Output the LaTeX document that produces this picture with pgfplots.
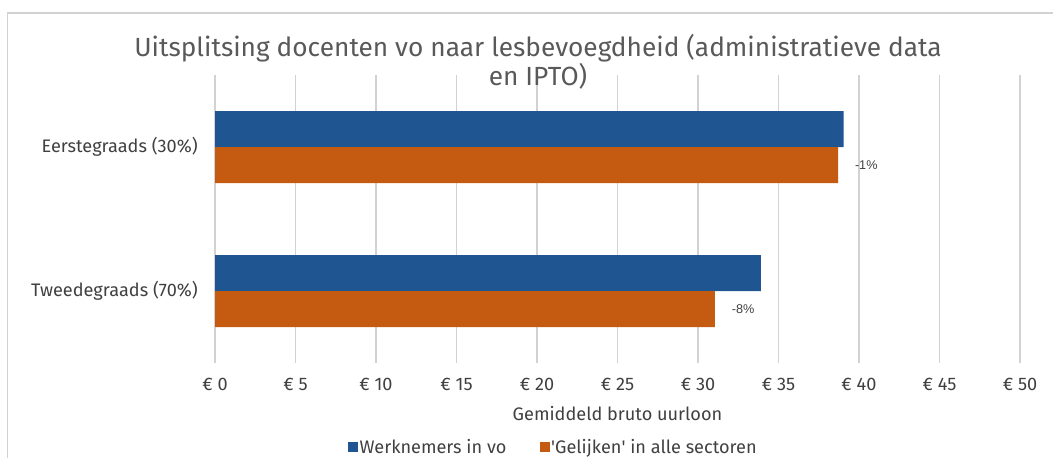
\documentclass[border=0pt]{standalone}
\usepackage{pgfplots}
\pgfplotsset{compat=1.18}
\usepackage{fontspec}
\setmainfont{Fira Sans}
\newfontfamily\lab{Liberation Sans}
\definecolor{blu}{RGB}{31,85,145}
\definecolor{orng}{RGB}{197,90,17}
\definecolor{txt}{RGB}{64,64,64}
\definecolor{ttl}{RGB}{89,89,89}
\definecolor{grd}{RGB}{210,210,210}
\begin{document}
\begin{tikzpicture}
\useasboundingbox (0,0) rectangle (789.75pt,342.75pt);
\draw[grd, line width=1.2pt, overlay] (5.6pt,-5pt) -- (5.6pt,333pt) -- (800pt,333pt);
\begin{axis}[
  at={(161.25pt,70.5pt)}, anchor=south west,
  scale only axis, width=603.75pt, height=216pt,
  xbar, bar width=0.25,
  xmin=0, xmax=50, ymin=-0.5, ymax=1.5,
  xtick={0,5,...,50},
  xticklabels={€ 0,€ 5,€ 10,€ 15,€ 20,€ 25,€ 30,€ 35,€ 40,€ 45,€ 50},
  ytick={0,1},
  yticklabels={Tweedegraads (70\%),Eerstegraads (30\%)},
  axis line style={draw=none},
  tick style={draw=none},
  xmajorgrids, ymajorgrids=false,
  major grid style={grd, line width=1.1pt},
  tick label style={font=\fontsize{13.6}{16}\selectfont, text=txt},
  xticklabel style={inner sep=0pt, anchor=north, yshift=-11.5pt},
  yticklabel style={inner sep=0pt, anchor=east, xshift=-8.5pt},
  xlabel={Gemiddeld bruto uurloon},
  xlabel style={at={(axis description cs:0.5,0)}, anchor=north, inner sep=0pt, yshift=-32pt, font=\fontsize{13.6}{16}\selectfont, text=txt},
  legend style={at={(0.42,-0.293)}, anchor=center, draw=none, fill=none,
    legend columns=2, font=\fontsize{13.6}{16}\selectfont, text=txt,
    nodes={inner sep=1pt},
    /tikz/every even column/.append style={column sep=24pt},
    inner sep=0pt},
  legend cell align=left,
  clip=false,
]
\addplot[fill=blu, draw=none, bar shift=0.125,
  legend image code/.code={\fill[blu] (0pt,-3.75pt) rectangle (7.5pt,3.75pt);}]
  coordinates {(33.9,0) (39.05,1)};
\addlegendentry{Werknemers in vo}
\addplot[fill=orng, draw=none, bar shift=-0.125,
  legend image code/.code={\fill[orng] (0pt,-3.75pt) rectangle (7.5pt,3.75pt);},
  nodes near coords, point meta=explicit symbolic,
  nodes near coords style={anchor=west, inner sep=0pt, xshift=12.5pt, font=\lab\fontsize{9.5}{11}\selectfont, text=txt}]
  coordinates {(31.05,0) [-8\%] (38.7,1) [-1\%]};
\addlegendentry{\textquotesingle Gelijken\textquotesingle{} in alle sectoren}
\end{axis}
\node[anchor=base, font=\fontsize{19.7}{23}\selectfont, text=ttl, inner sep=0pt] at (403.5pt,300.2pt) {Uitsplitsing docenten vo naar lesbevoegdheid (administratieve data};
\node[anchor=base, font=\fontsize{19.7}{23}\selectfont, text=ttl, inner sep=0pt] at (403.5pt,278.5pt) {en IPTO)};
\end{tikzpicture}
\end{document}
